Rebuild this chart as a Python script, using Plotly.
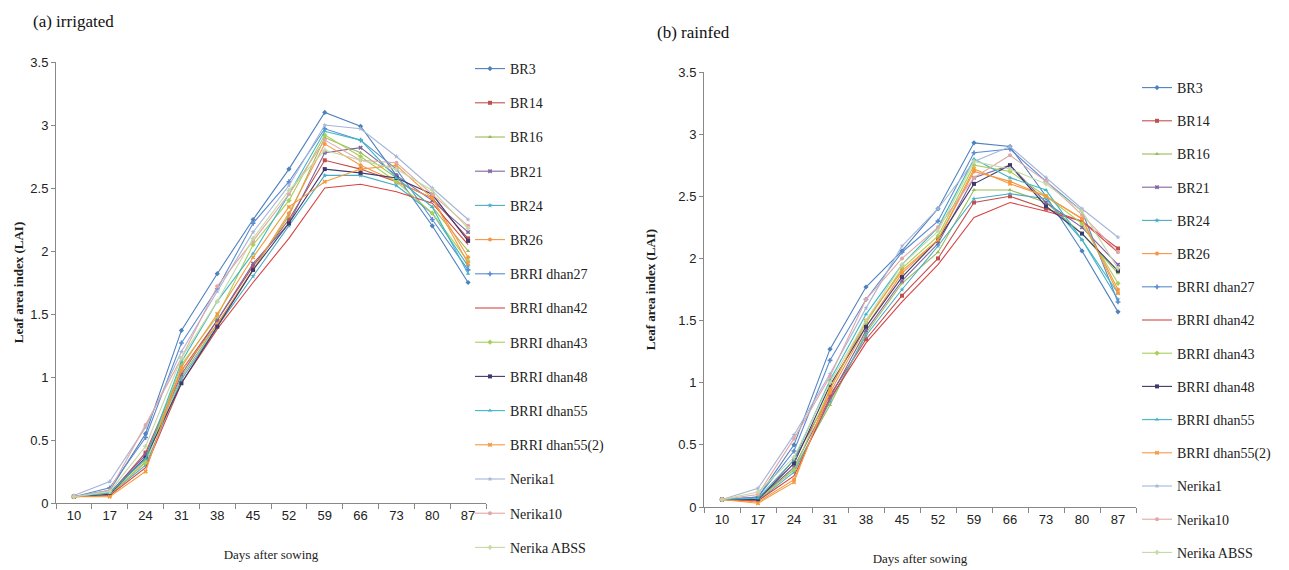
import plotly.graph_objects as go

days = ["10", "17", "24", "31", "38", "45", "52", "59", "66", "73", "80", "87"]
varieties = ["BR3", "BR14", "BR16", "BR21", "BR24", "BR26", "BRRI dhan27", "BRRI dhan42",
             "BRRI dhan43", "BRRI dhan48", "BRRI dhan55", "BRRI dhan55(2)", "Nerika1",
             "Nerika10", "Nerika ABSS"]

# (a) irrigated
irr_br3 = [0.05, 0.10, 0.55, 1.37, 1.82, 2.25, 2.65, 3.10, 2.99, 2.60, 2.20, 1.75]
irr_br14 = [0.05, 0.07, 0.40, 1.05, 1.45, 1.88, 2.25, 2.72, 2.65, 2.55, 2.42, 2.10]
irr_br16 = [0.05, 0.08, 0.35, 1.00, 1.42, 1.85, 2.28, 2.90, 2.78, 2.58, 2.35, 2.00]
irr_br21 = [0.05, 0.08, 0.38, 1.02, 1.45, 1.90, 2.22, 2.78, 2.82, 2.60, 2.40, 2.15]
irr_br24 = [0.05, 0.07, 0.30, 0.98, 1.40, 1.80, 2.20, 2.60, 2.60, 2.52, 2.30, 1.88]
irr_br26 = [0.05, 0.06, 0.33, 1.05, 1.42, 1.85, 2.30, 2.85, 2.68, 2.55, 2.42, 1.95]
irr_d27 = [0.05, 0.12, 0.52, 1.27, 1.70, 2.22, 2.55, 2.97, 2.88, 2.65, 2.25, 1.85]
irr_d42 = [0.05, 0.06, 0.28, 0.95, 1.38, 1.75, 2.10, 2.50, 2.53, 2.47, 2.38, 2.05]
irr_d43 = [0.05, 0.07, 0.32, 1.10, 1.48, 2.05, 2.40, 2.92, 2.75, 2.55, 2.30, 1.92]
irr_d48 = [0.05, 0.07, 0.36, 0.95, 1.40, 1.85, 2.22, 2.65, 2.62, 2.58, 2.45, 2.08]
irr_d55 = [0.05, 0.08, 0.35, 1.12, 1.60, 1.98, 2.45, 2.95, 2.88, 2.58, 2.35, 1.82]
irr_d55_2 = [0.05, 0.05, 0.25, 1.08, 1.50, 1.95, 2.35, 2.55, 2.65, 2.68, 2.42, 1.90]
irr_ner1 = [0.06, 0.17, 0.60, 1.20, 1.68, 2.15, 2.52, 3.00, 2.97, 2.75, 2.50, 2.25]
irr_ner10 = [0.05, 0.10, 0.62, 1.15, 1.72, 2.08, 2.45, 2.88, 2.72, 2.70, 2.45, 2.20]
irr_abss = [0.05, 0.09, 0.45, 1.15, 1.60, 2.10, 2.48, 2.80, 2.72, 2.65, 2.48, 2.18]

# (b) rainfed
rain_br3 = [0.06, 0.08, 0.50, 1.27, 1.77, 2.06, 2.40, 2.93, 2.90, 2.50, 2.06, 1.57]
rain_br14 = [0.06, 0.05, 0.38, 0.90, 1.35, 1.70, 2.00, 2.45, 2.50, 2.40, 2.30, 2.08]
rain_br16 = [0.06, 0.06, 0.30, 0.82, 1.40, 1.80, 2.05, 2.55, 2.55, 2.45, 2.20, 1.88]
rain_br21 = [0.06, 0.06, 0.32, 0.88, 1.42, 1.82, 2.12, 2.65, 2.75, 2.45, 2.25, 1.95]
rain_br24 = [0.06, 0.05, 0.28, 0.85, 1.38, 1.75, 2.10, 2.48, 2.52, 2.48, 2.15, 1.67]
rain_br26 = [0.06, 0.04, 0.22, 0.92, 1.45, 1.88, 2.15, 2.70, 2.62, 2.50, 2.32, 1.75]
rain_d27 = [0.06, 0.08, 0.45, 1.18, 1.67, 2.05, 2.30, 2.85, 2.88, 2.62, 2.38, 1.65]
rain_d42 = [0.06, 0.05, 0.25, 0.87, 1.32, 1.65, 1.95, 2.33, 2.45, 2.38, 2.30, 2.05]
rain_d43 = [0.06, 0.06, 0.30, 0.95, 1.48, 1.92, 2.18, 2.75, 2.70, 2.50, 2.28, 1.80]
rain_d48 = [0.06, 0.06, 0.35, 0.98, 1.45, 1.85, 2.15, 2.60, 2.75, 2.42, 2.20, 1.90]
rain_d55 = [0.06, 0.07, 0.38, 1.02, 1.55, 1.95, 2.25, 2.80, 2.65, 2.55, 2.15, 1.72]
rain_d55_2 = [0.06, 0.03, 0.20, 0.95, 1.50, 1.90, 2.15, 2.72, 2.60, 2.50, 2.32, 1.72]
rain_ner1 = [0.06, 0.15, 0.58, 1.07, 1.60, 2.10, 2.40, 2.78, 2.90, 2.65, 2.40, 2.17]
rain_ner10 = [0.06, 0.10, 0.55, 1.05, 1.67, 2.00, 2.25, 2.65, 2.83, 2.62, 2.35, 2.05]
rain_abss = [0.06, 0.12, 0.40, 1.00, 1.50, 1.95, 2.22, 2.78, 2.72, 2.60, 2.38, 1.92]

irrigated = [irr_br3, irr_br14, irr_br16, irr_br21, irr_br24, irr_br26, irr_d27, irr_d42,
             irr_d43, irr_d48, irr_d55, irr_d55_2, irr_ner1, irr_ner10, irr_abss]
rainfed = [rain_br3, rain_br14, rain_br16, rain_br21, rain_br24, rain_br26, rain_d27, rain_d42,
           rain_d43, rain_d48, rain_d55, rain_d55_2, rain_ner1, rain_ner10, rain_abss]

colors = ["#4F81BD", "#C0504D", "#9BBB59", "#8064A2", "#4BACC6", "#F79646",
          "#5B8BD0", "#D64545", "#A9CF5B", "#3F3A6B", "#3DB8C7", "#F59A3C",
          "#A6B5D7", "#E0A8A6", "#C6D8A6"]
symbols = ["diamond", "square", "triangle-up", "x", "star", "circle", "cross", "line-ew",
           "diamond", "square", "triangle-up", "x", "star", "circle", "cross"]

serif = "Liberation Serif, Times New Roman, serif"
sans = "Liberation Sans, Arial, sans-serif"

# page body has an 8px margin, so positions below are shifted by 8px
W, H = 1289, 570

fig = go.Figure()

for i, name in enumerate(varieties):
    fig.add_trace(go.Scatter(
        x=days, y=irrigated[i], name=name, mode="lines+markers",
        line=dict(color=colors[i], width=1.1),
        marker=dict(color=colors[i], size=4, symbol=symbols[i]),
        xaxis="x", yaxis="y", legend="legend", legendgroup="a" + str(i)))

for i, name in enumerate(varieties):
    fig.add_trace(go.Scatter(
        x=days, y=rainfed[i], name=name, mode="lines+markers",
        line=dict(color=colors[i], width=1.1),
        marker=dict(color=colors[i], size=4, symbol=symbols[i]),
        xaxis="x2", yaxis="y2", legend="legend2", legendgroup="b" + str(i)))

xa = dict(type="category", showline=True, linecolor="#888", linewidth=1,
          ticks="outside", tickson="boundaries", ticklen=5, tickcolor="#888",
          showgrid=False, zeroline=False, range=[-0.5, 11.5], automargin=False,
          tickfont=dict(family=sans, size=13, color="#222"),
          title=dict(text="Days after sowing", font=dict(family=serif, size=13, color="#222"),
                     standoff=28))
ya = dict(range=[0, 3.5], dtick=0.5, showline=True, linecolor="#888", linewidth=1,
          ticks="outside", ticklen=4, tickcolor="#888", showgrid=False, zeroline=False,
          automargin=False, tickfont=dict(family=sans, size=13, color="#222"))
ytitle = "<b>Leaf area index (LAI)</b>"
ytfont = dict(family=serif, size=13, color="#222")

leg = dict(font=dict(family=serif, size=14, color="#222"), bgcolor="rgba(0,0,0,0)",
           traceorder="grouped", itemwidth=30, maxheight=570,
           xanchor="left", yanchor="top")

fig.update_layout(
    width=W, height=H, plot_bgcolor="white", paper_bgcolor="white",
    margin=dict(l=0, r=0, t=0, b=0, autoexpand=False),
    xaxis=dict(xa, domain=[48 / W, 478 / W], anchor="y"),
    yaxis=dict(ya, domain=[1 - 495 / H, 1 - 54 / H], anchor="x",
               title=dict(text=ytitle, font=ytfont, standoff=3)),
    xaxis2=dict(xa, domain=[696 / W, 1128 / W], anchor="y2"),
    yaxis2=dict(ya, domain=[1 - 499 / H, 1 - 64 / H], anchor="x2",
                title=dict(text=ytitle, font=ytfont, standoff=19)),
    legend=dict(leg, x=462 / W, y=1 - 45 / H, tracegroupgap=13),
    legend2=dict(leg, x=1129 / W, y=1 - 64 / H, tracegroupgap=12),
    annotations=[
        dict(text="(a) irrigated", x=23 / W, y=1 - 14 / H, xref="paper", yref="paper",
             xanchor="left", yanchor="middle", showarrow=False,
             font=dict(family=serif, size=17, color="#111")),
        dict(text="(b) rainfed", x=647 / W, y=1 - 24 / H, xref="paper", yref="paper",
             xanchor="left", yanchor="middle", showarrow=False,
             font=dict(family=serif, size=17, color="#111")),
    ],
)

fig.write_html("out.html")
